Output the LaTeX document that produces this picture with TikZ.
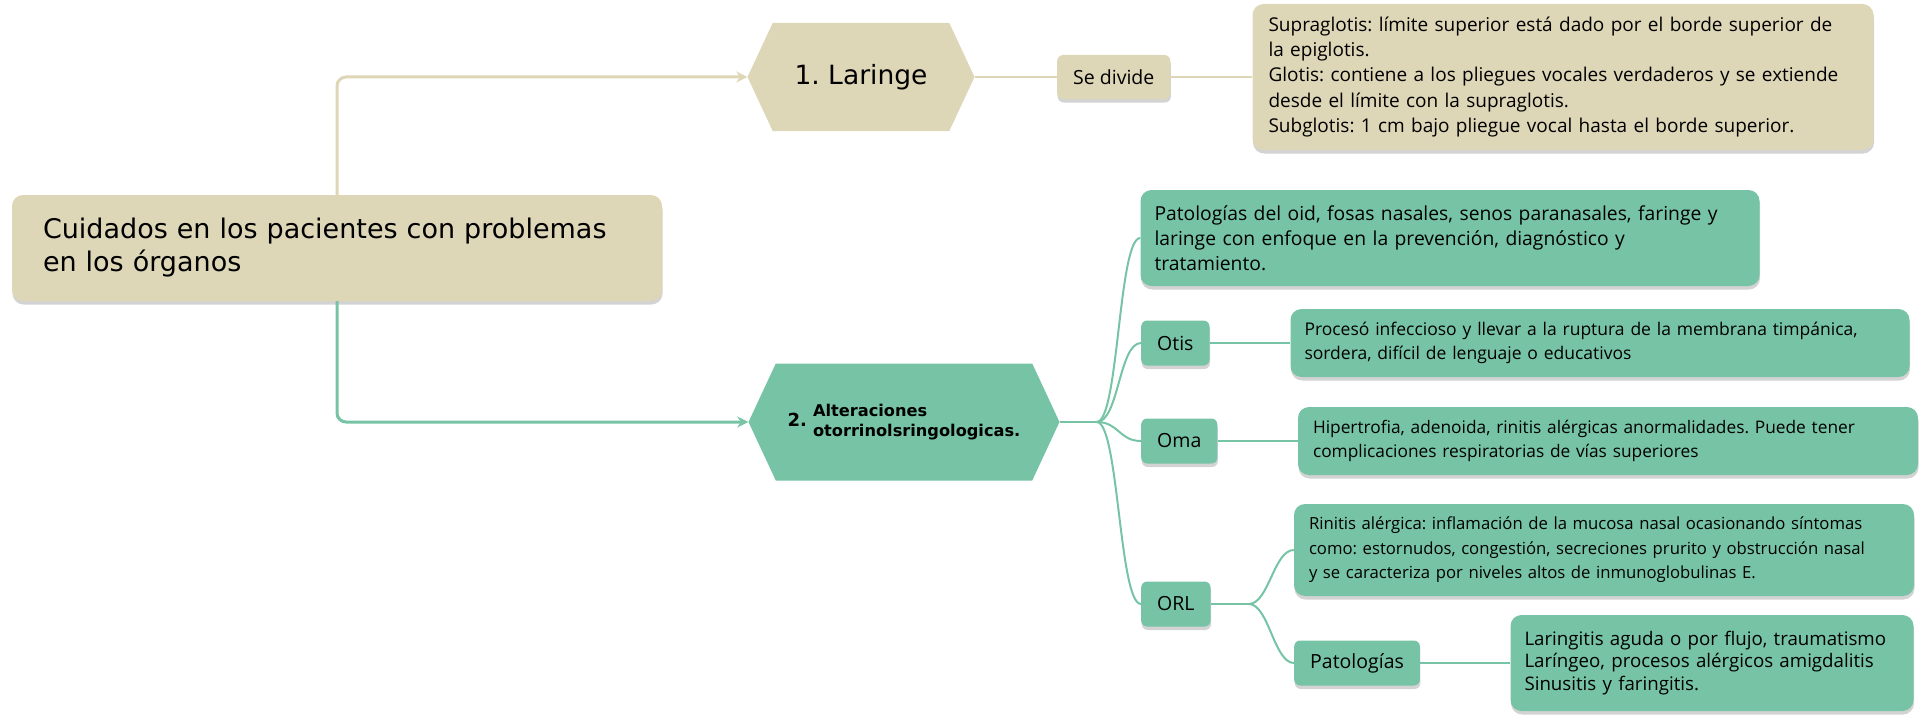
\documentclass[tikz,border=0pt]{standalone}
\usepackage{fontspec}
\setmainfont{Open Sans}
\newfontfamily\rootfont{DejaVu Sans}
\usetikzlibrary{positioning}
\usetikzlibrary{shapes.symbols}
\usetikzlibrary{shadows}
\usetikzlibrary{arrows.meta}

\definecolor{beige}{RGB}{221,214,183}
\definecolor{verde}{RGB}{118,196,165}

\tikzset{
  box/.style={rounded corners=11pt, inner ysep=0pt, align=left,
    drop shadow={shadow xshift=0.5pt, shadow yshift=-3.5pt, opacity=0.35}},
  tag/.style={rounded corners=6pt, inner xsep=16pt, inner ysep=0pt, minimum height=45pt,
    anchor=west, font=\fontsize{19.5}{23}\selectfont,
    drop shadow={shadow xshift=0.5pt, shadow yshift=-3.5pt, opacity=0.35}},
  hexa/.style={signal, signal to=east and west, signal pointer angle=130,
    inner sep=0pt, font=\rootfont},
  beigeline/.style={draw=beige, line width=2pt},
  verdeline/.style={draw=verde, line width=2pt},
}

\begin{document}
\frenchspacing
\begin{tikzpicture}[x=1pt, y=-1pt]

    \useasboundingbox (0,0) rectangle (1920,717);

    % tema central
    \node[box, fill=beige, text width=588pt, inner xsep=31pt, minimum height=106pt,
      font=\rootfont\fontsize{27}{33}\selectfont] (root) at (337,248)
      {Cuidados en los pacientes con problemas\\en los órganos};

    % rama 1
    \node[hexa, fill=beige, minimum width=227pt, minimum height=108pt] (laringe) at (861,77)
      {\fontsize{26.5}{30}\selectfont 1. Laringe};
    \node[tag, fill=beige, minimum height=44pt] (sedivide) at (1057,77) {Se divide};
    \node[box, fill=beige, text width=589pt, inner xsep=16pt, minimum height=146pt,
      font=\fontsize{19}{25.2}\selectfont] (supra) at (1563,77)
      {Supraglotis: límite superior está dado por el borde superior de\\
       la epiglotis.\\
       Glotis: contiene a los pliegues vocales verdaderos y se extiende\\
       desde el límite con la supraglotis.\\
       Subglotis: 1 cm bajo pliegue vocal hasta el borde superior.};

    % rama 2
    \node[hexa, fill=verde, minimum width=311pt, minimum height=117pt] (alt) at (904,422)
      {\bfseries\fontsize{18}{20}\selectfont 2.\hspace{6pt}\fontsize{16.2}{20}\selectfont
       \begin{tabular}[c]{@{}l@{}}Alteraciones\\otorrinolsringologicas.\end{tabular}};

    \node[box, fill=verde, text width=591pt, inner xsep=14pt, minimum height=96pt,
      font=\fontsize{19.3}{25}\selectfont] (pato) at (1450,238)
      {Patologías del oid, fosas nasales, senos paranasales, faringe y\\
       laringe con enfoque en la prevención, diagnóstico y\\
       tratamiento.};

    \node[tag, fill=verde] (otis) at (1141,343) {Otis};
    \node[box, fill=verde, text width=591pt, inner xsep=14pt, minimum height=68pt,
      font=\fontsize{17.5}{24}\selectfont] (otisdet) at (1600,343)
      {Procesó infeccioso y llevar a la ruptura de la membrana timpánica,\\
       sordera, difícil de lenguaje o educativos};

    \node[tag, fill=verde] (oma) at (1141,441) {Oma};
    \node[box, fill=verde, text width=590pt, inner xsep=15pt, minimum height=68pt,
      font=\fontsize{17.3}{24}\selectfont] (omadet) at (1608,441)
      {Hipertrofia, adenoida, rinitis alérgicas anormalidades. Puede tener\\
       complicaciones respiratorias de vías superiores};

    \node[tag, fill=verde] (orl) at (1141,604) {ORL};
    \node[box, fill=verde, text width=590pt, inner xsep=15pt, minimum height=92pt,
      font=\fontsize{16.7}{24.5}\selectfont] (rinitis) at (1604,550)
      {Rinitis alérgica: inflamación de la mucosa nasal ocasionando síntomas\\
       como: estornudos, congestión, secreciones prurito y obstrucción nasal\\
       y se caracteriza por niveles altos de inmunoglobulinas E.};

    \node[tag, fill=verde] (pato2) at (1294,663) {Patologías};
    \node[box, fill=verde, text width=375pt, inner xsep=14pt, minimum height=96pt,
      font=\fontsize{18.7}{22.5}\selectfont] (laringitis) at (1712,663)
      {Laringitis aguda o por flujo, traumatismo\\
       Laríngeo, procesos alérgicos amigdalitis\\
       Sinusitis y faringitis.};

    % conectores
    \draw[beigeline, line width=3pt, rounded corners=9pt, -{Stealth[length=11pt, width=11pt]}]
      (root.north) |- (laringe.west);
    \draw[verdeline, line width=3pt, rounded corners=9pt, -{Stealth[length=11pt, width=11pt]}]
      (root.south) |- (alt.west);

    \draw[beigeline] (laringe.east) -- (sedivide.west);
    \draw[beigeline] (sedivide.east) -- (supra.west);

    \coordinate[right=37pt of alt.east] (jalt);
    \draw[verdeline] (alt.east) -- (jalt);
    \foreach \n in {pato, otis, oma, orl}
      \draw[verdeline] (jalt) .. controls +(22,0) and +(-22,0) .. (\n.west);

    \draw[verdeline] (otis.east) -- (otisdet.west);
    \draw[verdeline] (oma.east) -- (omadet.west);

    \coordinate[right=38pt of orl.east] (jorl);
    \draw[verdeline] (orl.east) -- (jorl);
    \foreach \n in {rinitis, pato2}
      \draw[verdeline] (jorl) .. controls +(20,0) and +(-20,0) .. (\n.west);
    \draw[verdeline] (pato2.east) -- (laringitis.west);

\end{tikzpicture}
\end{document}
